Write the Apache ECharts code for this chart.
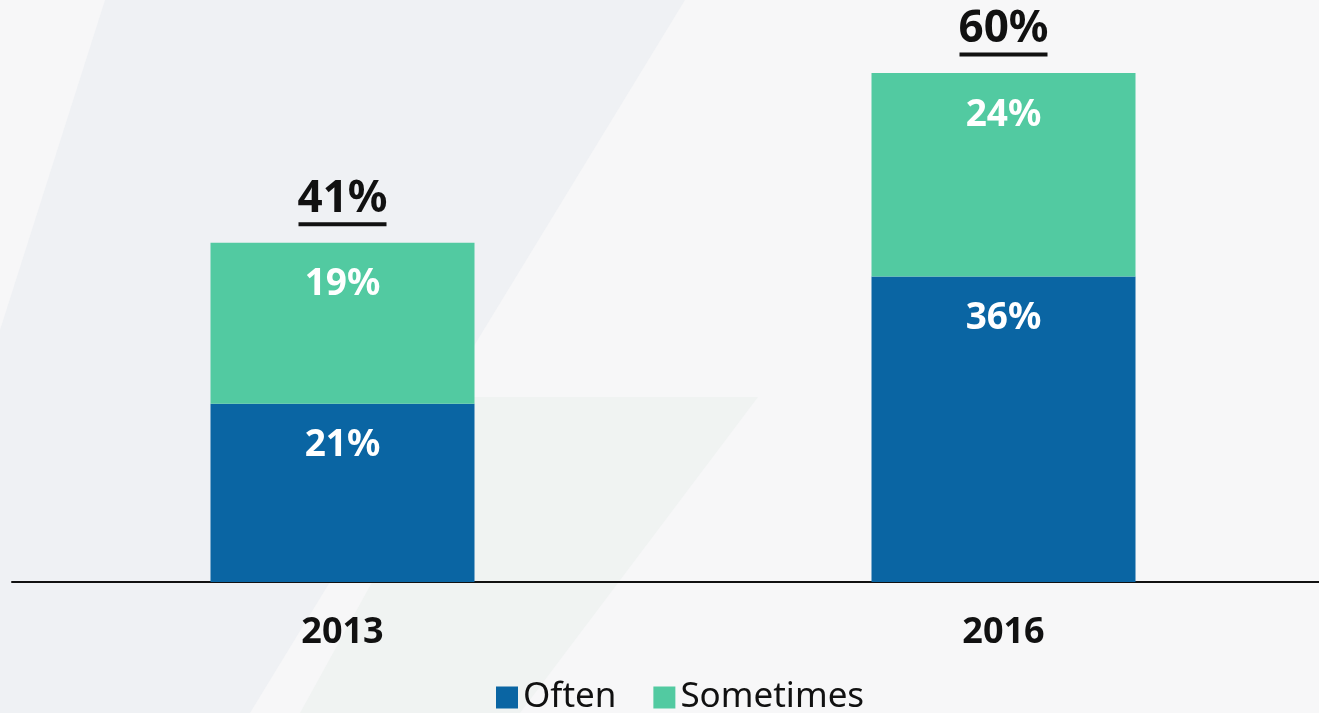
<!DOCTYPE html>
<html>
<head>
<meta charset="utf-8">
<script src="https://cdn.jsdelivr.net/npm/echarts@6/dist/echarts.min.js"></script>
<style>
  html, body { margin: 0; padding: 0; background: #f7f7f8; }
  #chart { width: 1319px; height: 713px; }
</style>
</head>
<body>
<div id="chart"></div>
<script>
/* ===== data ===== */
const years = ['2013', '2016'];
const often = [21, 36];
const sometimes = [19, 24];
const totals = [41, 60];   // as printed above each bar

const colors = {
  often: '#0a65a3',
  sometimes: '#52caa1',
  text: '#111111',
};

const font = '"Noto Sans", "Open Sans", sans-serif';

// invisible anchor at the top of each stack, carries the total label
const stackTops = often.map((v, i) => v + sometimes[i]);

function insideLabel() {
  return {
    show: true,
    position: 'insideTop',
    distance: 21,
    color: '#ffffff',
    fontFamily: font,
    fontWeight: 'bold',
    fontSize: 37,
    lineHeight: 42,
    formatter: p => p.value + '%',
  };
}

const chart = echarts.init(document.getElementById('chart'));
chart.setOption({
  backgroundColor: '#f7f7f8',
  animation: false,
  graphic: [
    // faint diagonal shapes of the slide background
    {
      type: 'polygon', silent: true, z: -10,
      shape: { points: [[105, 0], [685, 0], [250, 713], [0, 713], [0, 330]] },
      style: { fill: '#eff1f4' },
    },
    {
      type: 'polygon', silent: true, z: -9,
      shape: { points: [[474, 397], [758, 397], [520, 713], [300, 713]] },
      style: { fill: '#f0f3f2' },
    },
  ],
  legend: {
    data: ['Often', 'Sometimes'],
    left: 496,
    top: 680,
    padding: 0,
    icon: 'rect',
    itemWidth: 22,
    itemHeight: 22,
    itemGap: 37,
    textStyle: { color: colors.text, fontFamily: font, fontSize: 35, padding: [0, 0, 0, 0] },
  },
  grid: { left: 12, top: 73, width: 1322, height: 509, outerBoundsMode: 'none' },
  xAxis: {
    type: 'category',
    data: years,
    axisLine: { lineStyle: { color: '#111111', width: 2 } },
    axisTick: { show: false },
    axisLabel: {
      color: colors.text,
      fontFamily: font,
      fontWeight: 'bold',
      fontSize: 36,
      margin: 33,
    },
  },
  yAxis: {
    type: 'value',
    min: 0,
    max: 60,
    show: false,
  },
  series: [
    {
      name: 'Often',
      type: 'bar',
      stack: 'total',
      barWidth: 264,
      data: often,
      itemStyle: { color: colors.often },
      label: insideLabel(),
    },
    {
      name: 'Sometimes',
      type: 'bar',
      stack: 'total',
      barWidth: 264,
      data: sometimes,
      itemStyle: { color: colors.sometimes },
      label: insideLabel(),
    },
    {
      name: 'Total',
      type: 'scatter',
      data: stackTops,
      symbolSize: 1,
      itemStyle: { color: 'rgba(0,0,0,0)', opacity: 1 },
      label: {
        show: true,
        position: 'top',
        distance: 16,
        formatter: p => '{t|' + totals[p.dataIndex] + '%}\n{u| }',
        rich: {
          t: {
            color: colors.text,
            fontFamily: font,
            fontWeight: 'bold',
            fontSize: 44,
            lineHeight: 46,
            align: 'center',
          },
          u: {
            backgroundColor: colors.text,
            width: 88,
            height: 4,
            lineHeight: 4,
            fontSize: 1,
            align: 'center',
          },
        },
      },
    },
  ],
});

window.addEventListener('resize', () => chart.resize());
</script>
</body>
</html>
